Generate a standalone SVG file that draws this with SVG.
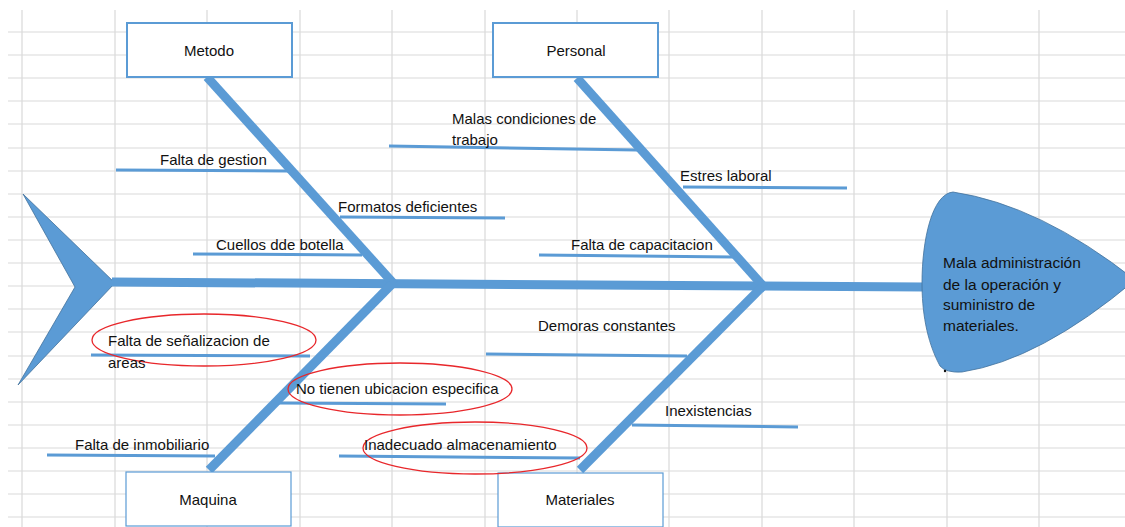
<svg xmlns="http://www.w3.org/2000/svg" width="1125" height="527" viewBox="0 0 1125 527">
<style>
.grid line{stroke:#d9d9d9;stroke-width:1.2}
.box{fill:#fff;stroke:#5b9bd5;stroke-width:2}
.boxb{fill:#fff;stroke:#5b9bd5;stroke-width:1.2}
.t{font-family:"Liberation Sans",Arial,sans-serif;font-size:15px;fill:#111}
.h{font-size:15.5px}
.tc{text-anchor:middle}
.bone{stroke:#5b9bd5;stroke-width:9;stroke-linecap:butt;fill:none}
.sub{stroke:#5b9bd5;stroke-width:3;fill:none}
.ell{fill:none;stroke:#e8272b;stroke-width:1.3}
</style>
<rect width="1125" height="527" fill="#fff"/>
<g class="grid" id="grid">
<line x1="22" y1="10" x2="22" y2="527"/><line x1="115" y1="10" x2="115" y2="527"/><line x1="207" y1="10" x2="207" y2="527"/><line x1="300" y1="10" x2="300" y2="527"/><line x1="392" y1="10" x2="392" y2="527"/><line x1="485" y1="10" x2="485" y2="527"/><line x1="577" y1="10" x2="577" y2="527"/><line x1="669" y1="10" x2="669" y2="527"/><line x1="762" y1="10" x2="762" y2="527"/><line x1="854" y1="10" x2="854" y2="527"/><line x1="947" y1="10" x2="947" y2="527"/><line x1="1039" y1="10" x2="1039" y2="527"/>
<line x1="8" y1="32" x2="1125" y2="32"/><line x1="8" y1="55" x2="1125" y2="55"/><line x1="8" y1="78" x2="1125" y2="78"/><line x1="8" y1="101" x2="1125" y2="101"/><line x1="8" y1="124" x2="1125" y2="124"/><line x1="8" y1="148" x2="1125" y2="148"/><line x1="8" y1="171" x2="1125" y2="171"/><line x1="8" y1="194" x2="1125" y2="194"/><line x1="8" y1="217" x2="1125" y2="217"/><line x1="8" y1="240" x2="1125" y2="240"/><line x1="8" y1="263" x2="1125" y2="263"/><line x1="8" y1="286" x2="1125" y2="286"/><line x1="8" y1="309" x2="1125" y2="309"/><line x1="8" y1="332" x2="1125" y2="332"/><line x1="8" y1="356" x2="1125" y2="356"/><line x1="8" y1="379" x2="1125" y2="379"/><line x1="8" y1="402" x2="1125" y2="402"/><line x1="8" y1="425" x2="1125" y2="425"/><line x1="8" y1="448" x2="1125" y2="448"/><line x1="8" y1="471" x2="1125" y2="471"/><line x1="8" y1="494" x2="1125" y2="494"/><line x1="8" y1="517" x2="1125" y2="517"/>
</g>
<g id="tail">
<polygon points="23,194 115,283 18,385 75,287" fill="#5b9bd5" stroke="#41719c" stroke-width="0.8"/>
</g>
<g id="connectors">
<line class="bone" x1="112" y1="282" x2="925" y2="287"/>
<line class="bone" x1="207" y1="77" x2="394" y2="284"/>
<line class="bone" x1="577" y1="78" x2="764" y2="287"/>
<line class="bone" x1="392" y1="284" x2="209" y2="470"/>
<line class="bone" x1="762" y1="287" x2="580" y2="470"/>
<line class="sub" x1="116" y1="170" x2="288" y2="171"/>
<line class="sub" x1="340" y1="217" x2="505" y2="218"/>
<line class="sub" x1="193" y1="254" x2="362" y2="255"/>
<line class="sub" x1="389" y1="146" x2="637" y2="150"/>
<line class="sub" x1="683" y1="187" x2="847" y2="188"/>
<line class="sub" x1="539" y1="255" x2="733" y2="257"/>
<line class="sub" x1="486" y1="354" x2="687" y2="356"/>
<line class="sub" x1="632" y1="425" x2="798" y2="427"/>
<line class="sub" x1="339" y1="456" x2="580" y2="458"/>
<line class="sub" x1="278" y1="403" x2="446" y2="404"/>
<line class="sub" x1="91" y1="355" x2="310" y2="356"/>
<line class="sub" x1="47" y1="455" x2="215" y2="456"/>
</g>
<g id="metodo"><rect class="box" x="127" y="23" width="165" height="54"/><text class="t tc" x="209" y="56">Metodo</text></g>
<g id="personal"><rect class="box" x="493" y="23" width="165" height="54"/><text class="t tc" x="576" y="56">Personal</text></g>
<g id="maquina"><rect class="boxb" x="126" y="472" width="165" height="54"/><text class="t tc" x="208" y="505">Maquina</text></g>
<g id="materiales"><rect class="boxb" x="498" y="473" width="165" height="54"/><text class="t tc" x="580" y="505">Materiales</text></g>
<g id="head">
<path d="M953,192 Q1040,205 1135,280 Q1040,360 962,372 Q946,373 940,366 C926,340 922,310 922,283 C922,240 932,194 953,192 Z" fill="#5b9bd5" stroke="#41719c" stroke-width="0.8"/>
<text class="t h" x="943" y="268">Mala administración</text>
<text class="t h" x="943" y="290">de la operación y</text>
<text class="t h" x="943" y="310">suministro de</text>
<text class="t h" x="943" y="331">materiales.</text>
<circle cx="945" cy="371" r="1.2" fill="#111"/>
</g>
<g id="c-gestion"><text class="t" x="160" y="165">Falta de gestion</text></g>
<g id="c-formatos"><text class="t" x="338" y="212">Formatos deficientes</text></g>
<g id="c-cuellos"><text class="t" x="216" y="250">Cuellos dde botella</text></g>
<g id="c-malas"><text class="t" x="452" y="124">Malas condiciones de</text><text class="t" x="452" y="145">trabajo</text></g>
<g id="c-estres"><text class="t" x="680" y="181">Estres laboral</text></g>
<g id="c-capacitacion"><text class="t" x="571" y="250">Falta de capacitacion</text></g>
<g id="c-demoras"><text class="t" x="538" y="331">Demoras constantes</text></g>
<g id="c-inexistencias"><text class="t" x="665" y="416">Inexistencias</text></g>
<g id="c-senalizacion"><ellipse class="ell" cx="204" cy="340" rx="112" ry="26"/><text class="t" x="108" y="346">Falta de señalizacion de</text><text class="t" x="108" y="368">areas</text></g>
<g id="c-ubicacion"><ellipse class="ell" cx="400" cy="389" rx="112" ry="26"/><text class="t" x="296" y="394">No tienen ubicacion especifica</text></g>
<g id="c-almacenamiento"><ellipse class="ell" cx="475" cy="448" rx="112" ry="26"/><text class="t" x="364" y="450">Inadecuado almacenamiento</text></g>
<g id="c-inmobiliario"><text class="t" x="75" y="450">Falta de inmobiliario</text></g>
</svg>
